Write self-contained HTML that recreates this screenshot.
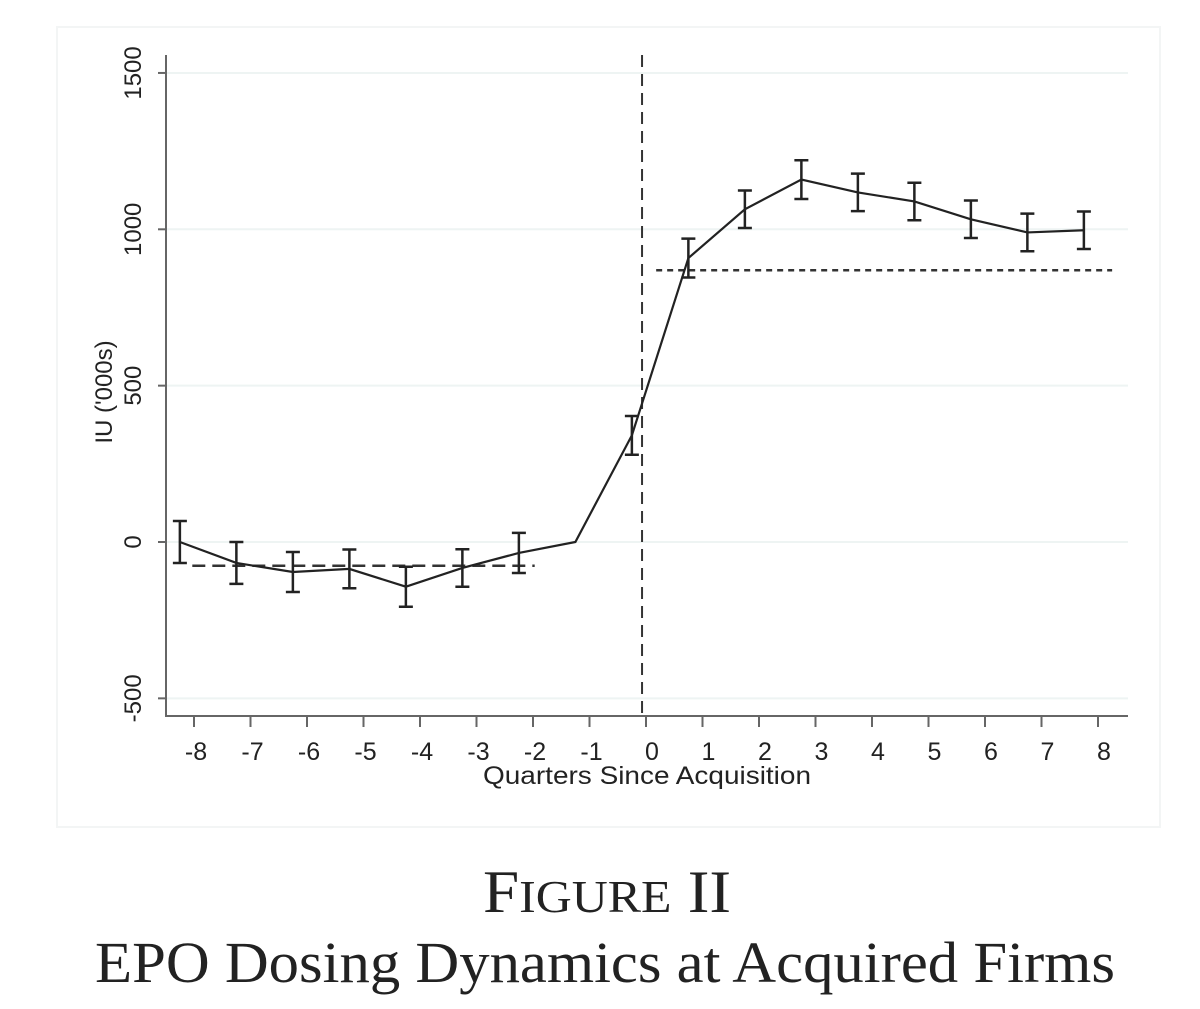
<!DOCTYPE html>
<html><head><meta charset="utf-8"><style>
body{margin:0;background:#fff;width:1200px;height:1009px;overflow:hidden}
svg{display:block}
</style></head><body>
<svg id="chart" width="1200" height="1009" xmlns="http://www.w3.org/2000/svg" font-family="Liberation Sans, sans-serif">
<rect x="57" y="27" width="1103" height="800" fill="#fff" stroke="#f3f5f5" stroke-width="2"/>
<g id="grid"></g><g id="axes"></g><g id="marks"></g>
<text transform="translate(112,392) rotate(-90)" text-anchor="middle" font-size="24" fill="#222">IU ('000s)</text>
<text x="647" y="784" text-anchor="middle" font-size="25" fill="#222" textLength="328" lengthAdjust="spacingAndGlyphs">Quarters Since Acquisition</text>
<text x="607" y="912" text-anchor="middle" font-family="Liberation Serif, serif" font-size="60" fill="#222" textLength="248" lengthAdjust="spacingAndGlyphs">F<tspan font-size="46">IGURE</tspan> II</text>
<text x="605" y="982" text-anchor="middle" font-family="Liberation Serif, serif" font-size="58" fill="#222" textLength="1020" lengthAdjust="spacingAndGlyphs">EPO Dosing Dynamics at Acquired Firms</text>
</svg>
<script>
const quarters=[-8,-7,-6,-5,-4,-3,-2,-1,0,1,2,3,4,5,6,7,8];
const estimates=[0,-67,-96,-86,-143,-83,-35,0,341,908,1064,1159,1118,1089,1032,990,997];
const errors=[67,67,64,62,64,60,64,0,62,62,60,62,60,60,60,60,60];
const yTicks=[-500,0,500,1000,1500];
const xTicks=[-8,-7,-6,-5,-4,-3,-2,-1,0,1,2,3,4,5,6,7,8];
const preMean=[-76];
const postMean=[869];
const NS='http://www.w3.org/2000/svg';
const X=v=>194+(v+8)*56.5;
const Y=v=>542-v*0.3127;
const OFF=-0.25;
function mk(parent,tag,attrs){const e=document.createElementNS(NS,tag);for(const k in attrs)e.setAttribute(k,attrs[k]);document.getElementById(parent).appendChild(e);return e;}
yTicks.forEach(t=>{
  const g=mk('grid','line',{x1:167,x2:1128,y1:Y(t),y2:Y(t),stroke:'#eef4f3','stroke-width':2});
  
  
  const tk=mk('axes','line',{x1:158,x2:167,y1:Y(t),y2:Y(t),stroke:'#666','stroke-width':2});
  
  
  const lb=mk('axes','text',{transform:`translate(141,${Y(t)}) rotate(-90)`,'text-anchor':'middle','font-size':24,fill:'#222'});
  lb.textContent=t;
  
  
});
const ya=mk('axes','line',{x1:166,x2:166,y1:55,y2:717,stroke:'#666','stroke-width':2});


const xa=mk('axes','line',{x1:165,x2:1128,y1:716,y2:716,stroke:'#666','stroke-width':2});


xTicks.forEach(t=>{
  const tk=mk('axes','line',{x1:X(t),x2:X(t),y1:716,y2:727,stroke:'#666','stroke-width':2});
  
  
  const lb=mk('axes','text',{x:X(t)+(t<0?2:6),y:760,'text-anchor':'middle','font-size':25,fill:'#222'});
  lb.textContent=t;
  
  
});
const vl=mk('marks','line',{x1:X(-0.07),x2:X(-0.07),y1:55,y2:716,stroke:'#333','stroke-width':2,'stroke-dasharray':'12,7'});


const pm=mk('marks','line',{x1:X(-8.03),x2:X(-1.97),y1:Y(preMean[0]),y2:Y(preMean[0]),stroke:'#333','stroke-width':2.5,'stroke-dasharray':'13,7'});


const qm=mk('marks','line',{x1:X(0.18),x2:X(8.25),y1:Y(postMean[0]),y2:Y(postMean[0]),stroke:'#333','stroke-width':2.5,'stroke-dasharray':'6,5'});


const pts=quarters.map((q,i)=>X(q+OFF)+','+Y(estimates[i])).join(' ');
const ln=mk('marks','polyline',{points:pts,fill:'none',stroke:'#222','stroke-width':2.2});


quarters.forEach((q,i)=>{
  if(!errors[i])return;
  const x=X(q+OFF),y1=Y(estimates[i]+errors[i]),y2=Y(estimates[i]-errors[i]);
  const p=mk('marks','path',{d:`M${x},${y1}V${y2}M${x-7},${y1}H${x+7}M${x-7},${y2}H${x+7}`,stroke:'#222','stroke-width':2.5,fill:'none'});
  
  
});
</script>
</body></html>
